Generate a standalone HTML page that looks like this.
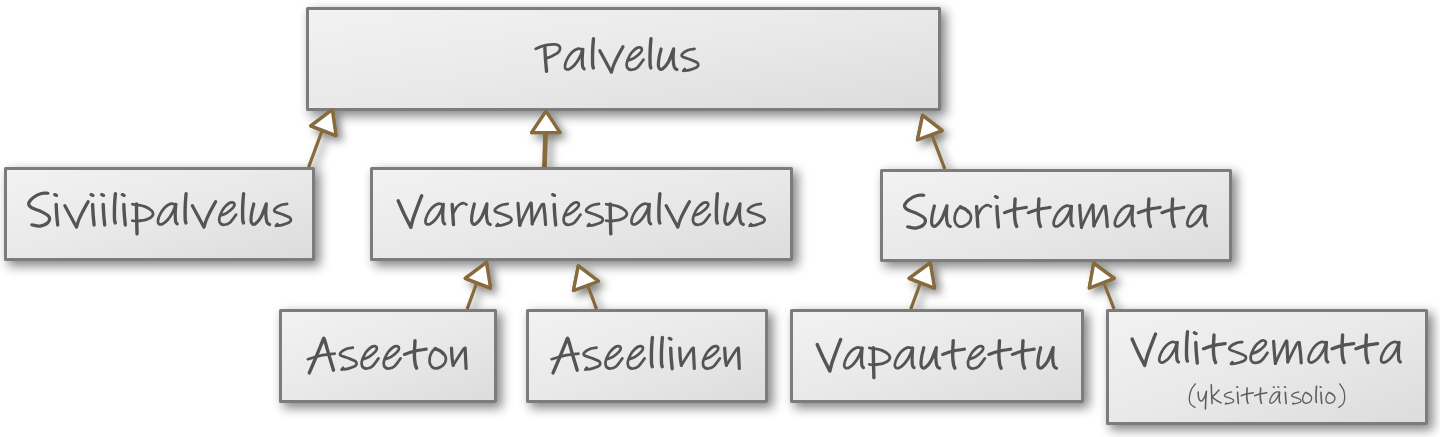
<!DOCTYPE html>
<html><head><meta charset="utf-8"><title>Palvelus</title>
<style>
html,body{margin:0;padding:0;background:#fff;}
body{width:1440px;height:437px;position:relative;overflow:hidden;font-family:"Liberation Sans",sans-serif;}
.b{position:absolute;box-sizing:border-box;border:3px solid #7c7c7c;border-radius:1.5px;
 background:linear-gradient(to bottom right,#f2f2f2 0%,#e9e9e9 50%,#dcdcdc 100%);
 box-shadow:4.5px 4.5px 11px rgba(0,0,0,.48);
 display:flex;flex-direction:column;align-items:center;justify-content:center;
 color:transparent;font-size:44px;line-height:1;}
.b small{font-size:22px;}
svg{position:absolute;left:0;top:0;}
</style></head><body>
<svg width="1440" height="437" viewBox="0 0 1440 437">
<defs><filter id="sh" filterUnits="userSpaceOnUse" x="0" y="0" width="1440" height="437"><feDropShadow dx="4.5" dy="4.5" stdDeviation="4.5" flood-color="#000" flood-opacity=".5"/></filter></defs>
<g filter="url(#sh)" stroke="#876b3c" stroke-width="3.3" fill="#fff" stroke-linejoin="round" stroke-linecap="butt">
<path d="M321.8 131.5L308.7 167" stroke-width="3.3"/>
<path d="M545.6 132.3L544.5 167" stroke-width="4.8"/>
<path d="M932.2 135.6L944.8 169" stroke-width="3.3"/>
<path d="M476.3 284L467.2 309" stroke-width="3.3"/>
<path d="M588.2 286.5L596.5 309" stroke-width="3.3"/>
<path d="M920.1 284L910.8 309" stroke-width="3.3"/>
<path d="M1104.3 284L1114.1 309" stroke-width="3.3"/>
<path d="M332.3 109.8L310.8 125.9L336.0 135.6Z"/>
<path d="M546.0 111.3L531.6 132.6L560.0 132.6Z"/>
<path d="M922.6 115.4L942.2 130.6L917.5 139.8Z"/>
<path d="M486.5 262.5L465.3 278.4L490.5 288.1Z"/>
<path d="M578.3 265.9L598.5 281.3L573.5 290.5Z"/>
<path d="M930.3 262.9L909.1 278.4L934.5 288.1Z"/>
<path d="M1093.7 263.4L1114.2 278.4L1089.3 288.0Z"/>
</g>
</svg>
<div class="b" style="left:306px;top:7px;width:635px;height:104px">Palvelus</div>
<div class="b" style="left:4px;top:167px;width:311px;height:94px">Siviilipalvelus</div>
<div class="b" style="left:370px;top:167px;width:423px;height:94px">Varusmiespalvelus</div>
<div class="b" style="left:880px;top:169px;width:352px;height:93px">Suorittamatta</div>
<div class="b" style="left:279px;top:309px;width:218px;height:94px">Aseeton</div>
<div class="b" style="left:526px;top:309px;width:242px;height:94px">Aseellinen</div>
<div class="b" style="left:790px;top:309px;width:294px;height:94px">Vapautettu</div>
<div class="b" style="left:1106px;top:309px;width:322px;height:116px">Valitsematta<small>(yksittäisolio)</small></div>
<svg width="1440" height="437" viewBox="0 0 1440 437" style="z-index:5"><g stroke="#876b3c" stroke-width="3.3" fill="#fff" stroke-linejoin="round">
<path d="M332.3 109.8L310.8 125.9L336.0 135.6Z"/>
<path d="M546.0 111.3L531.6 132.6L560.0 132.6Z"/>
<path d="M922.6 115.4L942.2 130.6L917.5 139.8Z"/>
<path d="M486.5 262.5L465.3 278.4L490.5 288.1Z"/>
<path d="M578.3 265.9L598.5 281.3L573.5 290.5Z"/>
<path d="M930.3 262.9L909.1 278.4L934.5 288.1Z"/>
<path d="M1093.7 263.4L1114.2 278.4L1089.3 288.0Z"/>
</g></svg>
<svg width="1440" height="437" viewBox="0 0 1440 437" style="z-index:6" fill="none" stroke-linecap="round" stroke-linejoin="round">
<g aria-label="Palvelus" stroke="#545454"><path stroke-width="2.75" d="M535.75 48.85C536.58 48.48 538.83 47.30 540.75 46.65C542.67 46.00 544.92 45.32 547.25 44.95C549.58 44.58 552.78 44.30 554.75 44.45C556.72 44.60 558.17 45.10 559.05 45.85C559.93 46.60 560.25 47.82 560.05 48.95C559.85 50.08 559.07 51.53 557.85 52.65C556.63 53.77 554.72 54.68 552.75 55.65C550.78 56.62 547.17 57.98 546.05 58.45M582.45 49.65C581.62 49.52 579.27 48.33 577.45 48.85C575.63 49.37 573.32 50.93 571.55 52.75C569.78 54.57 567.95 57.53 566.85 59.75C565.75 61.97 565.08 64.50 564.95 66.05C564.82 67.60 565.28 68.57 566.05 69.05C566.82 69.53 568.10 69.67 569.55 68.95C571.00 68.23 573.10 66.62 574.75 64.75C576.40 62.88 578.10 60.33 579.45 57.75C580.80 55.17 582.28 50.67 582.85 49.25M627.50 60.85C628.65 60.35 632.23 59.22 634.40 57.85C636.57 56.48 639.25 54.08 640.50 52.65C641.75 51.22 642.00 50.13 641.90 49.25C641.80 48.37 640.82 47.52 639.90 47.35C638.98 47.18 637.87 47.27 636.40 48.25C634.93 49.23 632.55 51.32 631.10 53.25C629.65 55.18 628.45 57.92 627.70 59.85C626.95 61.78 626.53 63.38 626.60 64.85C626.67 66.32 627.18 67.83 628.10 68.65C629.02 69.47 630.53 69.95 632.10 69.75C633.67 69.55 635.60 69.13 637.50 67.45C639.40 65.77 642.50 60.95 643.50 59.65M694.50 48.95C693.48 49.12 690.40 49.17 688.40 49.95C686.40 50.73 683.52 52.53 682.50 53.65C681.48 54.77 681.15 55.72 682.30 56.65C683.45 57.58 686.87 58.22 689.40 59.25C691.93 60.28 696.22 61.55 697.50 62.85C698.78 64.15 698.37 65.88 697.10 67.05C695.83 68.22 692.20 69.23 689.90 69.85C687.60 70.47 684.40 70.60 683.30 70.75M683.30 70.75L684.70 69.05"/><path stroke-width="3.20" d="M582.85 49.25C582.75 50.92 582.28 56.33 582.25 59.25C582.22 62.17 582.33 65.15 582.65 66.75C582.97 68.35 583.90 68.50 584.15 68.85M599.80 50.65C600.75 52.42 603.57 57.67 605.50 61.25C607.43 64.83 610.42 70.33 611.40 72.15M611.40 72.15C611.77 71.00 612.67 67.65 613.60 65.25C614.53 62.85 615.43 60.85 617.00 57.75C618.57 54.65 622.00 48.50 623.00 46.65M661.15 48.95C660.82 50.33 659.62 54.53 659.15 57.25C658.68 59.97 658.28 63.32 658.35 65.25C658.42 67.18 658.82 68.28 659.55 68.85C660.28 69.42 661.30 69.75 662.75 68.65C664.20 67.55 666.43 65.55 668.25 62.25C670.07 58.95 672.75 51.08 673.65 48.85M673.65 48.85C673.57 50.58 673.03 56.18 673.15 59.25C673.27 62.32 673.72 65.55 674.35 67.25C674.98 68.95 676.52 69.08 676.95 69.45"/><path stroke-width="3.39" d="M544.85 46.45C544.93 48.25 545.07 53.12 545.35 57.25C545.63 61.38 546.35 68.92 546.55 71.25M593.50 38.65C593.38 40.08 592.97 44.15 592.80 47.25C592.63 50.35 592.52 54.25 592.50 57.25C592.48 60.25 592.55 63.47 592.70 65.25C592.85 67.03 593.28 67.50 593.40 67.95M651.00 38.65C650.88 40.08 650.47 44.15 650.30 47.25C650.13 50.35 650.02 54.25 650.00 57.25C649.98 60.25 650.05 63.47 650.20 65.25C650.35 67.03 650.78 67.50 650.90 67.95"/></g>
<g aria-label="Siviilipalvelus" stroke="#545454"><path stroke-width="2.75" d="M132.45 204.25C133.12 204.32 134.35 204.25 136.45 204.65C138.55 205.05 142.48 205.62 145.05 206.65C147.62 207.68 150.62 209.32 151.85 210.85C153.08 212.38 153.38 214.38 152.45 215.85C151.52 217.32 148.88 218.78 146.25 219.65C143.62 220.52 138.95 220.88 136.65 221.05C134.35 221.22 133.15 220.72 132.45 220.65M175.45 204.65C174.62 204.52 172.27 203.33 170.45 203.85C168.63 204.37 166.32 205.93 164.55 207.75C162.78 209.57 160.95 212.53 159.85 214.75C158.75 216.97 158.08 219.50 157.95 221.05C157.82 222.60 158.28 223.57 159.05 224.05C159.82 224.53 161.10 224.67 162.55 223.95C164.00 223.23 166.10 221.62 167.75 219.75C169.40 217.88 171.10 215.33 172.45 212.75C173.80 210.17 175.28 205.67 175.85 204.25M220.10 215.85C221.25 215.35 224.83 214.22 227.00 212.85C229.17 211.48 231.85 209.08 233.10 207.65C234.35 206.22 234.60 205.13 234.50 204.25C234.40 203.37 233.42 202.52 232.50 202.35C231.58 202.18 230.47 202.27 229.00 203.25C227.53 204.23 225.15 206.32 223.70 208.25C222.25 210.18 221.05 212.92 220.30 214.85C219.55 216.78 219.13 218.38 219.20 219.85C219.27 221.32 219.78 222.83 220.70 223.65C221.62 224.47 223.13 224.95 224.70 224.75C226.27 224.55 228.20 224.13 230.10 222.45C232.00 220.77 235.10 215.95 236.10 214.65M287.10 203.95C286.08 204.12 283.00 204.17 281.00 204.95C279.00 205.73 276.12 207.53 275.10 208.65C274.08 209.77 273.75 210.72 274.90 211.65C276.05 212.58 279.47 213.22 282.00 214.25C284.53 215.28 288.82 216.55 290.10 217.85C291.38 219.15 290.97 220.88 289.70 222.05C288.43 223.22 284.80 224.23 282.50 224.85C280.20 225.47 277.00 225.60 275.90 225.75M275.90 225.75L277.30 224.05"/><path stroke-width="3.20" d="M47.90 193.25C46.82 193.28 43.87 192.72 41.40 193.45C38.93 194.18 35.22 196.02 33.10 197.65C30.98 199.28 28.97 201.58 28.70 203.25C28.43 204.92 29.40 206.25 31.50 207.65C33.60 209.05 38.40 210.15 41.30 211.65C44.20 213.15 47.80 214.82 48.90 216.65C50.00 218.48 49.37 221.08 47.90 222.65C46.43 224.22 42.77 225.70 40.10 226.05C37.43 226.40 33.27 224.97 31.90 224.75M54.70 194.55L56.50 195.45M64.90 205.65C65.85 207.42 68.67 212.67 70.60 216.25C72.53 219.83 75.52 225.33 76.50 227.15M76.50 227.15C76.87 226.00 77.77 222.65 78.70 220.25C79.63 217.85 80.53 215.85 82.10 212.75C83.67 209.65 87.10 203.50 88.10 201.65M91.10 194.55L92.90 195.45M101.70 194.55L103.50 195.45M122.30 194.55L124.10 195.45M175.85 204.25C175.75 205.92 175.28 211.33 175.25 214.25C175.22 217.17 175.33 220.15 175.65 221.75C175.97 223.35 176.90 223.50 177.15 223.85M192.40 205.65C193.35 207.42 196.17 212.67 198.10 216.25C200.03 219.83 203.02 225.33 204.00 227.15M204.00 227.15C204.37 226.00 205.27 222.65 206.20 220.25C207.13 217.85 208.03 215.85 209.60 212.75C211.17 209.65 214.60 203.50 215.60 201.65M253.80 203.95C253.47 205.33 252.27 209.53 251.80 212.25C251.33 214.97 250.93 218.32 251.00 220.25C251.07 222.18 251.47 223.28 252.20 223.85C252.93 224.42 253.95 224.75 255.40 223.65C256.85 222.55 259.08 220.55 260.90 217.25C262.72 213.95 265.40 206.08 266.30 203.85M266.30 203.85C266.22 205.58 265.68 211.18 265.80 214.25C265.92 217.32 266.37 220.55 267.00 222.25C267.63 223.95 269.17 224.08 269.60 224.45"/><path stroke-width="3.39" d="M56.20 204.35C56.28 206.00 56.45 210.82 56.70 214.25C56.95 217.68 57.53 223.17 57.70 224.95M92.60 204.35C92.68 206.00 92.85 210.82 93.10 214.25C93.35 217.68 93.93 223.17 94.10 224.95M103.20 204.35C103.28 206.00 103.45 210.82 103.70 214.25C103.95 217.68 104.53 223.17 104.70 224.95M115.40 193.65C115.28 195.08 114.87 199.15 114.70 202.25C114.53 205.35 114.42 209.25 114.40 212.25C114.38 215.25 114.45 218.47 114.60 220.25C114.75 222.03 115.18 222.50 115.30 222.95M123.80 204.35C123.88 206.00 124.05 210.82 124.30 214.25C124.55 217.68 125.13 223.17 125.30 224.95M136.45 203.85C136.48 206.25 136.55 213.25 136.65 218.25C136.75 223.25 136.98 231.25 137.05 233.85M186.10 193.65C185.98 195.08 185.57 199.15 185.40 202.25C185.23 205.35 185.12 209.25 185.10 212.25C185.08 215.25 185.15 218.47 185.30 220.25C185.45 222.03 185.88 222.50 186.00 222.95M243.60 193.65C243.48 195.08 243.07 199.15 242.90 202.25C242.73 205.35 242.62 209.25 242.60 212.25C242.58 215.25 242.65 218.47 242.80 220.25C242.95 222.03 243.38 222.50 243.50 222.95"/></g>
<g aria-label="Varusmiespalvelus" stroke="#545454"><path stroke-width="2.75" d="M442.95 204.65C442.12 204.52 439.77 203.33 437.95 203.85C436.13 204.37 433.82 205.93 432.05 207.75C430.28 209.57 428.45 212.53 427.35 214.75C426.25 216.97 425.58 219.50 425.45 221.05C425.32 222.60 425.78 223.57 426.55 224.05C427.32 224.53 428.60 224.67 430.05 223.95C431.50 223.23 433.60 221.62 435.25 219.75C436.90 217.88 438.60 215.33 439.95 212.75C441.30 210.17 442.78 205.67 443.35 204.25M453.20 213.45C453.77 212.42 455.37 208.85 456.60 207.25C457.83 205.65 459.37 204.52 460.60 203.85C461.83 203.18 463.03 203.13 464.00 203.25C464.97 203.37 466.00 204.33 466.40 204.55M507.70 203.95C506.68 204.12 503.60 204.17 501.60 204.95C499.60 205.73 496.72 207.53 495.70 208.65C494.68 209.77 494.35 210.72 495.50 211.65C496.65 212.58 500.07 213.22 502.60 214.25C505.13 215.28 509.42 216.55 510.70 217.85C511.98 219.15 511.57 220.88 510.30 222.05C509.03 223.22 505.40 224.23 503.10 224.85C500.80 225.47 497.60 225.60 496.50 225.75M496.50 225.75L497.90 224.05M519.80 225.35C520.40 224.00 521.70 220.87 523.40 217.25C525.10 213.63 528.70 205.98 530.00 203.65C531.30 201.32 531.00 203.32 531.20 203.25M532.20 223.85C532.73 222.75 533.87 220.35 535.40 217.25C536.93 214.15 540.03 207.38 541.40 205.25C542.77 203.12 543.23 204.58 543.60 204.45M564.50 215.85C565.65 215.35 569.23 214.22 571.40 212.85C573.57 211.48 576.25 209.08 577.50 207.65C578.75 206.22 579.00 205.13 578.90 204.25C578.80 203.37 577.82 202.52 576.90 202.35C575.98 202.18 574.87 202.27 573.40 203.25C571.93 204.23 569.55 206.32 568.10 208.25C566.65 210.18 565.45 212.92 564.70 214.85C563.95 216.78 563.53 218.38 563.60 219.85C563.67 221.32 564.18 222.83 565.10 223.65C566.02 224.47 567.53 224.95 569.10 224.75C570.67 224.55 572.60 224.13 574.50 222.45C576.40 220.77 579.50 215.95 580.50 214.65M599.00 203.95C597.98 204.12 594.90 204.17 592.90 204.95C590.90 205.73 588.02 207.53 587.00 208.65C585.98 209.77 585.65 210.72 586.80 211.65C587.95 212.58 591.37 213.22 593.90 214.25C596.43 215.28 600.72 216.55 602.00 217.85C603.28 219.15 602.87 220.88 601.60 222.05C600.33 223.22 596.70 224.23 594.40 224.85C592.10 225.47 588.90 225.60 587.80 225.75M587.80 225.75L589.20 224.05M606.20 204.25C606.87 204.32 608.10 204.25 610.20 204.65C612.30 205.05 616.23 205.62 618.80 206.65C621.37 207.68 624.37 209.32 625.60 210.85C626.83 212.38 627.13 214.38 626.20 215.85C625.27 217.32 622.63 218.78 620.00 219.65C617.37 220.52 612.70 220.88 610.40 221.05C608.10 221.22 606.90 220.72 606.20 220.65M648.95 204.65C648.12 204.52 645.77 203.33 643.95 203.85C642.13 204.37 639.82 205.93 638.05 207.75C636.28 209.57 634.45 212.53 633.35 214.75C632.25 216.97 631.58 219.50 631.45 221.05C631.32 222.60 631.78 223.57 632.55 224.05C633.32 224.53 634.60 224.67 636.05 223.95C637.50 223.23 639.60 221.62 641.25 219.75C642.90 217.88 644.60 215.33 645.95 212.75C647.30 210.17 648.78 205.67 649.35 204.25M693.85 215.85C695.00 215.35 698.58 214.22 700.75 212.85C702.92 211.48 705.60 209.08 706.85 207.65C708.10 206.22 708.35 205.13 708.25 204.25C708.15 203.37 707.17 202.52 706.25 202.35C705.33 202.18 704.22 202.27 702.75 203.25C701.28 204.23 698.90 206.32 697.45 208.25C696.00 210.18 694.80 212.92 694.05 214.85C693.30 216.78 692.88 218.38 692.95 219.85C693.02 221.32 693.53 222.83 694.45 223.65C695.37 224.47 696.88 224.95 698.45 224.75C700.02 224.55 701.95 224.13 703.85 222.45C705.75 220.77 708.85 215.95 709.85 214.65M760.85 203.95C759.83 204.12 756.75 204.17 754.75 204.95C752.75 205.73 749.87 207.53 748.85 208.65C747.83 209.77 747.50 210.72 748.65 211.65C749.80 212.58 753.22 213.22 755.75 214.25C758.28 215.28 762.57 216.55 763.85 217.85C765.13 219.15 764.72 220.88 763.45 222.05C762.18 223.22 758.55 224.23 756.25 224.85C753.95 225.47 750.75 225.60 749.65 225.75M749.65 225.75L751.05 224.05"/><path stroke-width="3.20" d="M443.35 204.25C443.25 205.92 442.78 211.33 442.75 214.25C442.72 217.17 442.83 220.15 443.15 221.75C443.47 223.35 444.40 223.50 444.65 223.85M474.40 203.95C474.07 205.33 472.87 209.53 472.40 212.25C471.93 214.97 471.53 218.32 471.60 220.25C471.67 222.18 472.07 223.28 472.80 223.85C473.53 224.42 474.55 224.75 476.00 223.65C477.45 222.55 479.68 220.55 481.50 217.25C483.32 213.95 486.00 206.08 486.90 203.85M486.90 203.85C486.82 205.58 486.28 211.18 486.40 214.25C486.52 217.32 486.97 220.55 487.60 222.25C488.23 223.95 489.77 224.08 490.20 224.45M518.00 203.25C518.13 205.08 518.50 210.57 518.80 214.25C519.10 217.93 519.63 223.50 519.80 225.35M531.20 203.25C531.30 205.08 531.63 210.82 531.80 214.25C531.97 217.68 532.13 222.25 532.20 223.85M543.60 204.45C543.80 206.08 544.47 210.88 544.80 214.25C545.13 217.62 545.47 222.92 545.60 224.65M552.70 194.55L554.50 195.45M649.35 204.25C649.25 205.92 648.78 211.33 648.75 214.25C648.72 217.17 648.83 220.15 649.15 221.75C649.47 223.35 650.40 223.50 650.65 223.85M666.20 205.65C667.15 207.42 669.97 212.67 671.90 216.25C673.83 219.83 676.82 225.33 677.80 227.15M677.80 227.15C678.17 226.00 679.07 222.65 680.00 220.25C680.93 217.85 681.83 215.85 683.40 212.75C684.97 209.65 688.40 203.50 689.40 201.65M727.50 203.95C727.17 205.33 725.97 209.53 725.50 212.25C725.03 214.97 724.63 218.32 724.70 220.25C724.77 222.18 725.17 223.28 725.90 223.85C726.63 224.42 727.65 224.75 729.10 223.65C730.55 222.55 732.78 220.55 734.60 217.25C736.42 213.95 739.10 206.08 740.00 203.85M740.00 203.85C739.92 205.58 739.38 211.18 739.50 214.25C739.62 217.32 740.07 220.55 740.70 222.25C741.33 223.95 742.87 224.08 743.30 224.45"/><path stroke-width="3.39" d="M398.25 200.85C399.25 203.08 402.15 209.85 404.25 214.25C406.35 218.65 409.75 225.08 410.85 227.25M410.85 227.25C411.25 225.75 412.18 221.58 413.25 218.25C414.32 214.92 415.85 210.98 417.25 207.25C418.65 203.52 420.92 197.75 421.65 195.85M452.20 204.45C452.30 206.08 452.58 210.88 452.80 214.25C453.02 217.62 453.38 222.92 453.50 224.65M554.20 204.35C554.28 206.00 554.45 210.82 554.70 214.25C554.95 217.68 555.53 223.17 555.70 224.95M610.20 203.85C610.23 206.25 610.30 213.25 610.40 218.25C610.50 223.25 610.73 231.25 610.80 233.85M659.90 193.65C659.78 195.08 659.37 199.15 659.20 202.25C659.03 205.35 658.92 209.25 658.90 212.25C658.88 215.25 658.95 218.47 659.10 220.25C659.25 222.03 659.68 222.50 659.80 222.95M717.40 193.65C717.28 195.08 716.87 199.15 716.70 202.25C716.53 205.35 716.42 209.25 716.40 212.25C716.38 215.25 716.45 218.47 716.60 220.25C716.75 222.03 717.18 222.50 717.30 222.95"/></g>
<g aria-label="Suorittamatta" stroke="#545454"><path stroke-width="2.75" d="M959.90 206.65C960.82 207.03 963.77 207.90 965.40 208.95C967.03 210.00 968.77 211.53 969.70 212.95C970.63 214.37 971.08 215.87 971.00 217.45C970.92 219.03 970.30 221.05 969.20 222.45C968.10 223.85 966.10 225.20 964.40 225.85C962.70 226.50 960.52 226.90 959.00 226.35C957.48 225.80 956.00 224.20 955.30 222.55C954.60 220.90 954.52 218.50 954.80 216.45C955.08 214.40 956.02 211.93 957.00 210.25C957.98 208.57 960.08 207.00 960.70 206.35M960.90 207.65C961.65 207.98 964.07 208.78 965.40 209.65C966.73 210.52 968.32 212.32 968.90 212.85M977.60 215.45C978.17 214.42 979.77 210.85 981.00 209.25C982.23 207.65 983.77 206.52 985.00 205.85C986.23 205.18 987.43 205.13 988.40 205.25C989.37 205.37 990.40 206.33 990.80 206.55M1071.10 206.65C1070.27 206.52 1067.92 205.33 1066.10 205.85C1064.28 206.37 1061.97 207.93 1060.20 209.75C1058.43 211.57 1056.60 214.53 1055.50 216.75C1054.40 218.97 1053.73 221.50 1053.60 223.05C1053.47 224.60 1053.93 225.57 1054.70 226.05C1055.47 226.53 1056.75 226.67 1058.20 225.95C1059.65 225.23 1061.75 223.62 1063.40 221.75C1065.05 219.88 1066.75 217.33 1068.10 214.75C1069.45 212.17 1070.93 207.67 1071.50 206.25M1081.50 227.35C1082.10 226.00 1083.40 222.87 1085.10 219.25C1086.80 215.63 1090.40 207.98 1091.70 205.65C1093.00 203.32 1092.70 205.32 1092.90 205.25M1093.90 225.85C1094.43 224.75 1095.57 222.35 1097.10 219.25C1098.63 216.15 1101.73 209.38 1103.10 207.25C1104.47 205.12 1104.93 206.58 1105.30 206.45M1132.30 206.65C1131.47 206.52 1129.12 205.33 1127.30 205.85C1125.48 206.37 1123.17 207.93 1121.40 209.75C1119.63 211.57 1117.80 214.53 1116.70 216.75C1115.60 218.97 1114.93 221.50 1114.80 223.05C1114.67 224.60 1115.13 225.57 1115.90 226.05C1116.67 226.53 1117.95 226.67 1119.40 225.95C1120.85 225.23 1122.95 223.62 1124.60 221.75C1126.25 219.88 1127.95 217.33 1129.30 214.75C1130.65 212.17 1132.13 207.67 1132.70 206.25M1204.80 206.65C1203.97 206.52 1201.62 205.33 1199.80 205.85C1197.98 206.37 1195.67 207.93 1193.90 209.75C1192.13 211.57 1190.30 214.53 1189.20 216.75C1188.10 218.97 1187.43 221.50 1187.30 223.05C1187.17 224.60 1187.63 225.57 1188.40 226.05C1189.17 226.53 1190.45 226.67 1191.90 225.95C1193.35 225.23 1195.45 223.62 1197.10 221.75C1198.75 219.88 1200.45 217.33 1201.80 214.75C1203.15 212.17 1204.63 207.67 1205.20 206.25"/><path stroke-width="3.20" d="M923.75 195.25C922.67 195.28 919.72 194.72 917.25 195.45C914.78 196.18 911.07 198.02 908.95 199.65C906.83 201.28 904.82 203.58 904.55 205.25C904.28 206.92 905.25 208.25 907.35 209.65C909.45 211.05 914.25 212.15 917.15 213.65C920.05 215.15 923.65 216.82 924.75 218.65C925.85 220.48 925.22 223.08 923.75 224.65C922.28 226.22 918.62 227.70 915.95 228.05C913.28 228.40 909.12 226.97 907.75 226.75M934.40 205.95C934.07 207.33 932.87 211.53 932.40 214.25C931.93 216.97 931.53 220.32 931.60 222.25C931.67 224.18 932.07 225.28 932.80 225.85C933.53 226.42 934.55 226.75 936.00 225.65C937.45 224.55 939.68 222.55 941.50 219.25C943.32 215.95 946.00 208.08 946.90 205.85M946.90 205.85C946.82 207.58 946.28 213.18 946.40 216.25C946.52 219.32 946.97 222.55 947.60 224.25C948.23 225.95 949.77 226.08 950.20 226.45M995.45 196.55L997.25 197.45M1004.50 212.65C1006.27 212.08 1011.47 210.12 1015.10 209.25C1018.73 208.38 1024.43 207.75 1026.30 207.45M1028.30 212.65C1030.07 212.08 1035.27 210.12 1038.90 209.25C1042.53 208.38 1048.23 207.75 1050.10 207.45M1071.50 206.25C1071.40 207.92 1070.93 213.33 1070.90 216.25C1070.87 219.17 1070.98 222.15 1071.30 223.75C1071.62 225.35 1072.55 225.50 1072.80 225.85M1079.70 205.25C1079.83 207.08 1080.20 212.57 1080.50 216.25C1080.80 219.93 1081.33 225.50 1081.50 227.35M1092.90 205.25C1093.00 207.08 1093.33 212.82 1093.50 216.25C1093.67 219.68 1093.83 224.25 1093.90 225.85M1105.30 206.45C1105.50 208.08 1106.17 212.88 1106.50 216.25C1106.83 219.62 1107.17 224.92 1107.30 226.65M1132.70 206.25C1132.60 207.92 1132.13 213.33 1132.10 216.25C1132.07 219.17 1132.18 222.15 1132.50 223.75C1132.82 225.35 1133.75 225.50 1134.00 225.85M1138.30 212.65C1140.07 212.08 1145.27 210.12 1148.90 209.25C1152.53 208.38 1158.23 207.75 1160.10 207.45M1162.00 212.65C1163.77 212.08 1168.97 210.12 1172.60 209.25C1176.23 208.38 1181.93 207.75 1183.80 207.45M1205.20 206.25C1205.10 207.92 1204.63 213.33 1204.60 216.25C1204.57 219.17 1204.68 222.15 1205.00 223.75C1205.32 225.35 1206.25 225.50 1206.50 225.85"/><path stroke-width="3.39" d="M976.60 206.45C976.70 208.08 976.98 212.88 977.20 216.25C977.42 219.62 977.78 224.92 977.90 226.65M996.95 206.35C997.03 208.00 997.20 212.82 997.45 216.25C997.70 219.68 998.28 225.17 998.45 226.95M1015.10 198.85C1015.00 201.25 1014.47 209.35 1014.50 213.25C1014.53 217.15 1014.93 220.05 1015.30 222.25C1015.67 224.45 1016.47 225.75 1016.70 226.45M1038.90 198.85C1038.80 201.25 1038.27 209.35 1038.30 213.25C1038.33 217.15 1038.73 220.05 1039.10 222.25C1039.47 224.45 1040.27 225.75 1040.50 226.45M1148.90 198.85C1148.80 201.25 1148.27 209.35 1148.30 213.25C1148.33 217.15 1148.73 220.05 1149.10 222.25C1149.47 224.45 1150.27 225.75 1150.50 226.45M1172.60 198.85C1172.50 201.25 1171.97 209.35 1172.00 213.25C1172.03 217.15 1172.43 220.05 1172.80 222.25C1173.17 224.45 1173.97 225.75 1174.20 226.45"/></g>
<g aria-label="Aseeton" stroke="#545454"><path stroke-width="2.75" d="M307.90 359.20C310.00 358.60 316.03 356.53 320.50 355.60C324.97 354.67 332.33 353.93 334.70 353.60M352.85 347.70C351.83 347.87 348.75 347.92 346.75 348.70C344.75 349.48 341.87 351.28 340.85 352.40C339.83 353.52 339.50 354.47 340.65 355.40C341.80 356.33 345.22 356.97 347.75 358.00C350.28 359.03 354.57 360.30 355.85 361.60C357.13 362.90 356.72 364.63 355.45 365.80C354.18 366.97 350.55 367.98 348.25 368.60C345.95 369.22 342.75 369.35 341.65 369.50M341.65 369.50L343.05 367.80M362.50 359.60C363.65 359.10 367.23 357.97 369.40 356.60C371.57 355.23 374.25 352.83 375.50 351.40C376.75 349.97 377.00 348.88 376.90 348.00C376.80 347.12 375.82 346.27 374.90 346.10C373.98 345.93 372.87 346.02 371.40 347.00C369.93 347.98 367.55 350.07 366.10 352.00C364.65 353.93 363.45 356.67 362.70 358.60C361.95 360.53 361.53 362.13 361.60 363.60C361.67 365.07 362.18 366.58 363.10 367.40C364.02 368.22 365.53 368.70 367.10 368.50C368.67 368.30 370.60 367.88 372.50 366.20C374.40 364.52 377.50 359.70 378.50 358.40M384.60 359.60C385.75 359.10 389.33 357.97 391.50 356.60C393.67 355.23 396.35 352.83 397.60 351.40C398.85 349.97 399.10 348.88 399.00 348.00C398.90 347.12 397.92 346.27 397.00 346.10C396.08 345.93 394.97 346.02 393.50 347.00C392.03 347.98 389.65 350.07 388.20 352.00C386.75 353.93 385.55 356.67 384.80 358.60C384.05 360.53 383.63 362.13 383.70 363.60C383.77 365.07 384.28 366.58 385.20 367.40C386.12 368.22 387.63 368.70 389.20 368.50C390.77 368.30 392.70 367.88 394.60 366.20C396.50 364.52 399.60 359.70 400.60 358.40M434.80 348.40C435.72 348.78 438.67 349.65 440.30 350.70C441.93 351.75 443.67 353.28 444.60 354.70C445.53 356.12 445.98 357.62 445.90 359.20C445.82 360.78 445.20 362.80 444.10 364.20C443.00 365.60 441.00 366.95 439.30 367.60C437.60 368.25 435.42 368.65 433.90 368.10C432.38 367.55 430.90 365.95 430.20 364.30C429.50 362.65 429.42 360.25 429.70 358.20C429.98 356.15 430.92 353.68 431.90 352.00C432.88 350.32 434.98 348.75 435.60 348.10M435.80 349.40C436.55 349.73 438.97 350.53 440.30 351.40C441.63 352.27 443.22 354.07 443.80 354.60M453.20 365.40C453.90 364.25 455.72 361.17 457.40 358.50C459.08 355.83 462.02 351.12 463.30 349.40C464.58 347.68 464.80 348.40 465.10 348.20"/><path stroke-width="3.20" d="M404.40 354.40C406.17 353.83 411.37 351.87 415.00 351.00C418.63 350.13 424.33 349.50 426.20 349.20M451.50 348.20C451.60 349.83 451.82 355.13 452.10 358.00C452.38 360.87 453.02 364.17 453.20 365.40M465.10 348.20C465.18 349.83 465.43 354.62 465.60 358.00C465.77 361.38 466.02 366.75 466.10 368.50"/><path stroke-width="3.39" d="M323.20 339.40C322.08 342.17 318.82 350.42 316.50 356.00C314.18 361.58 310.50 370.08 309.30 372.90M323.20 339.40C323.40 339.40 323.45 336.80 324.40 339.40C325.35 342.00 327.38 349.87 328.90 355.00C330.42 360.13 332.73 367.67 333.50 370.20M415.00 340.60C414.90 343.00 414.37 351.10 414.40 355.00C414.43 358.90 414.83 361.80 415.20 364.00C415.57 366.20 416.37 367.50 416.60 368.20"/></g>
<g aria-label="Aseellinen" stroke="#545454"><path stroke-width="2.75" d="M551.65 359.20C553.75 358.60 559.78 356.53 564.25 355.60C568.72 354.67 576.08 353.93 578.45 353.60M596.50 347.70C595.48 347.87 592.40 347.92 590.40 348.70C588.40 349.48 585.52 351.28 584.50 352.40C583.48 353.52 583.15 354.47 584.30 355.40C585.45 356.33 588.87 356.97 591.40 358.00C593.93 359.03 598.22 360.30 599.50 361.60C600.78 362.90 600.37 364.63 599.10 365.80C597.83 366.97 594.20 367.98 591.90 368.60C589.60 369.22 586.40 369.35 585.30 369.50M585.30 369.50L586.70 367.80M606.35 359.60C607.50 359.10 611.08 357.97 613.25 356.60C615.42 355.23 618.10 352.83 619.35 351.40C620.60 349.97 620.85 348.88 620.75 348.00C620.65 347.12 619.67 346.27 618.75 346.10C617.83 345.93 616.72 346.02 615.25 347.00C613.78 347.98 611.40 350.07 609.95 352.00C608.50 353.93 607.30 356.67 606.55 358.60C605.80 360.53 605.38 362.13 605.45 363.60C605.52 365.07 606.03 366.58 606.95 367.40C607.87 368.22 609.38 368.70 610.95 368.50C612.52 368.30 614.45 367.88 616.35 366.20C618.25 364.52 621.35 359.70 622.35 358.40M628.60 359.60C629.75 359.10 633.33 357.97 635.50 356.60C637.67 355.23 640.35 352.83 641.60 351.40C642.85 349.97 643.10 348.88 643.00 348.00C642.90 347.12 641.92 346.27 641.00 346.10C640.08 345.93 638.97 346.02 637.50 347.00C636.03 347.98 633.65 350.07 632.20 352.00C630.75 353.93 629.55 356.67 628.80 358.60C628.05 360.53 627.63 362.13 627.70 363.60C627.77 365.07 628.28 366.58 629.20 367.40C630.12 368.22 631.63 368.70 633.20 368.50C634.77 368.30 636.70 367.88 638.60 366.20C640.50 364.52 643.60 359.70 644.60 358.40M681.40 365.40C682.10 364.25 683.92 361.17 685.60 358.50C687.28 355.83 690.22 351.12 691.50 349.40C692.78 347.68 693.00 348.40 693.30 348.20M703.85 359.60C705.00 359.10 708.58 357.97 710.75 356.60C712.92 355.23 715.60 352.83 716.85 351.40C718.10 349.97 718.35 348.88 718.25 348.00C718.15 347.12 717.17 346.27 716.25 346.10C715.33 345.93 714.22 346.02 712.75 347.00C711.28 347.98 708.90 350.07 707.45 352.00C706.00 353.93 704.80 356.67 704.05 358.60C703.30 360.53 702.88 362.13 702.95 363.60C703.02 365.07 703.53 366.58 704.45 367.40C705.37 368.22 706.88 368.70 708.45 368.50C710.02 368.30 711.95 367.88 713.85 366.20C715.75 364.52 718.85 359.70 719.85 358.40M726.40 365.40C727.10 364.25 728.92 361.17 730.60 358.50C732.28 355.83 735.22 351.12 736.50 349.40C737.78 347.68 738.00 348.40 738.30 348.20"/><path stroke-width="3.20" d="M669.20 338.30L671.00 339.20M679.70 348.20C679.80 349.83 680.02 355.13 680.30 358.00C680.58 360.87 681.22 364.17 681.40 365.40M693.30 348.20C693.38 349.83 693.63 354.62 693.80 358.00C693.97 361.38 694.22 366.75 694.30 368.50M724.70 348.20C724.80 349.83 725.02 355.13 725.30 358.00C725.58 360.87 726.22 364.17 726.40 365.40M738.30 348.20C738.38 349.83 738.63 354.62 738.80 358.00C738.97 361.38 739.22 366.75 739.30 368.50"/><path stroke-width="3.39" d="M566.95 339.40C565.83 342.17 562.57 350.42 560.25 356.00C557.93 361.58 554.25 370.08 553.05 372.90M566.95 339.40C567.15 339.40 567.20 336.80 568.15 339.40C569.10 342.00 571.13 349.87 572.65 355.00C574.17 360.13 576.48 367.67 577.25 370.20M652.40 337.40C652.28 338.83 651.87 342.90 651.70 346.00C651.53 349.10 651.42 353.00 651.40 356.00C651.38 359.00 651.45 362.22 651.60 364.00C651.75 365.78 652.18 366.25 652.30 366.70M662.40 337.40C662.28 338.83 661.87 342.90 661.70 346.00C661.53 349.10 661.42 353.00 661.40 356.00C661.38 359.00 661.45 362.22 661.60 364.00C661.75 365.78 662.18 366.25 662.30 366.70M670.70 348.10C670.78 349.75 670.95 354.57 671.20 358.00C671.45 361.43 672.03 366.92 672.20 368.70"/></g>
<g aria-label="Vapautettu" stroke="#545454"><path stroke-width="2.75" d="M861.70 348.40C860.87 348.27 858.52 347.08 856.70 347.60C854.88 348.12 852.57 349.68 850.80 351.50C849.03 353.32 847.20 356.28 846.10 358.50C845.00 360.72 844.33 363.25 844.20 364.80C844.07 366.35 844.53 367.32 845.30 367.80C846.07 368.28 847.35 368.42 848.80 367.70C850.25 366.98 852.35 365.37 854.00 363.50C855.65 361.63 857.35 359.08 858.70 356.50C860.05 353.92 861.53 349.42 862.10 348.00M869.30 348.00C869.97 348.07 871.20 348.00 873.30 348.40C875.40 348.80 879.33 349.37 881.90 350.40C884.47 351.43 887.47 353.07 888.70 354.60C889.93 356.13 890.23 358.13 889.30 359.60C888.37 361.07 885.73 362.53 883.10 363.40C880.47 364.27 875.80 364.63 873.50 364.80C871.20 364.97 870.00 364.47 869.30 364.40M912.30 348.40C911.47 348.27 909.12 347.08 907.30 347.60C905.48 348.12 903.17 349.68 901.40 351.50C899.63 353.32 897.80 356.28 896.70 358.50C895.60 360.72 894.93 363.25 894.80 364.80C894.67 366.35 895.13 367.32 895.90 367.80C896.67 368.28 897.95 368.42 899.40 367.70C900.85 366.98 902.95 365.37 904.60 363.50C906.25 361.63 907.95 359.08 909.30 356.50C910.65 353.92 912.13 349.42 912.70 348.00M968.85 359.60C970.00 359.10 973.58 357.97 975.75 356.60C977.92 355.23 980.60 352.83 981.85 351.40C983.10 349.97 983.35 348.88 983.25 348.00C983.15 347.12 982.17 346.27 981.25 346.10C980.33 345.93 979.22 346.02 977.75 347.00C976.28 347.98 973.90 350.07 972.45 352.00C971.00 353.93 969.80 356.67 969.05 358.60C968.30 360.53 967.88 362.13 967.95 363.60C968.02 365.07 968.53 366.58 969.45 367.40C970.37 368.22 971.88 368.70 973.45 368.50C975.02 368.30 976.95 367.88 978.85 366.20C980.75 364.52 983.85 359.70 984.85 358.40"/><path stroke-width="3.20" d="M862.10 348.00C862.00 349.67 861.53 355.08 861.50 358.00C861.47 360.92 861.58 363.90 861.90 365.50C862.22 367.10 863.15 367.25 863.40 367.60M912.70 348.00C912.60 349.67 912.13 355.08 912.10 358.00C912.07 360.92 912.18 363.90 912.50 365.50C912.82 367.10 913.75 367.25 914.00 367.60M923.80 347.70C923.47 349.08 922.27 353.28 921.80 356.00C921.33 358.72 920.93 362.07 921.00 364.00C921.07 365.93 921.47 367.03 922.20 367.60C922.93 368.17 923.95 368.50 925.40 367.40C926.85 366.30 929.08 364.30 930.90 361.00C932.72 357.70 935.40 349.83 936.30 347.60M936.30 347.60C936.22 349.33 935.68 354.93 935.80 358.00C935.92 361.07 936.37 364.30 937.00 366.00C937.63 367.70 939.17 367.83 939.60 368.20M942.65 354.40C944.42 353.83 949.62 351.87 953.25 351.00C956.88 350.13 962.58 349.50 964.45 349.20M988.90 354.40C990.67 353.83 995.87 351.87 999.50 351.00C1003.13 350.13 1008.83 349.50 1010.70 349.20M1012.40 354.40C1014.17 353.83 1019.37 351.87 1023.00 351.00C1026.63 350.13 1032.33 349.50 1034.20 349.20M1040.65 347.70C1040.32 349.08 1039.12 353.28 1038.65 356.00C1038.18 358.72 1037.78 362.07 1037.85 364.00C1037.92 365.93 1038.32 367.03 1039.05 367.60C1039.78 368.17 1040.80 368.50 1042.25 367.40C1043.70 366.30 1045.93 364.30 1047.75 361.00C1049.57 357.70 1052.25 349.83 1053.15 347.60M1053.15 347.60C1053.07 349.33 1052.53 354.93 1052.65 358.00C1052.77 361.07 1053.22 364.30 1053.85 366.00C1054.48 367.70 1056.02 367.83 1056.45 368.20"/><path stroke-width="3.39" d="M817.25 344.60C818.25 346.83 821.15 353.60 823.25 358.00C825.35 362.40 828.75 368.83 829.85 371.00M829.85 371.00C830.25 369.50 831.18 365.33 832.25 362.00C833.32 358.67 834.85 354.73 836.25 351.00C837.65 347.27 839.92 341.50 840.65 339.60M873.30 347.60C873.33 350.00 873.40 357.00 873.50 362.00C873.60 367.00 873.83 375.00 873.90 377.60M953.25 340.60C953.15 343.00 952.62 351.10 952.65 355.00C952.68 358.90 953.08 361.80 953.45 364.00C953.82 366.20 954.62 367.50 954.85 368.20M999.50 340.60C999.40 343.00 998.87 351.10 998.90 355.00C998.93 358.90 999.33 361.80 999.70 364.00C1000.07 366.20 1000.87 367.50 1001.10 368.20M1023.00 340.60C1022.90 343.00 1022.37 351.10 1022.40 355.00C1022.43 358.90 1022.83 361.80 1023.20 364.00C1023.57 366.20 1024.37 367.50 1024.60 368.20"/></g>
<g aria-label="Valitsematta" stroke="#545454"><path stroke-width="2.75" d="M1176.80 342.80C1175.97 342.67 1173.62 341.48 1171.80 342.00C1169.98 342.52 1167.67 344.08 1165.90 345.90C1164.13 347.72 1162.30 350.68 1161.20 352.90C1160.10 355.12 1159.43 357.65 1159.30 359.20C1159.17 360.75 1159.63 361.72 1160.40 362.20C1161.17 362.68 1162.45 362.82 1163.90 362.10C1165.35 361.38 1167.45 359.77 1169.10 357.90C1170.75 356.03 1172.45 353.48 1173.80 350.90C1175.15 348.32 1176.63 343.82 1177.20 342.40M1242.20 342.10C1241.18 342.27 1238.10 342.32 1236.10 343.10C1234.10 343.88 1231.22 345.68 1230.20 346.80C1229.18 347.92 1228.85 348.87 1230.00 349.80C1231.15 350.73 1234.57 351.37 1237.10 352.40C1239.63 353.43 1243.92 354.70 1245.20 356.00C1246.48 357.30 1246.07 359.03 1244.80 360.20C1243.53 361.37 1239.90 362.38 1237.60 363.00C1235.30 363.62 1232.10 363.75 1231.00 363.90M1231.00 363.90L1232.40 362.20M1251.50 354.00C1252.65 353.50 1256.23 352.37 1258.40 351.00C1260.57 349.63 1263.25 347.23 1264.50 345.80C1265.75 344.37 1266.00 343.28 1265.90 342.40C1265.80 341.52 1264.82 340.67 1263.90 340.50C1262.98 340.33 1261.87 340.42 1260.40 341.40C1258.93 342.38 1256.55 344.47 1255.10 346.40C1253.65 348.33 1252.45 351.07 1251.70 353.00C1250.95 354.93 1250.53 356.53 1250.60 358.00C1250.67 359.47 1251.18 360.98 1252.10 361.80C1253.02 362.62 1254.53 363.10 1256.10 362.90C1257.67 362.70 1259.60 362.28 1261.50 360.60C1263.40 358.92 1266.50 354.10 1267.50 352.80M1275.40 363.50C1276.00 362.15 1277.30 359.02 1279.00 355.40C1280.70 351.78 1284.30 344.13 1285.60 341.80C1286.90 339.47 1286.60 341.47 1286.80 341.40M1287.80 362.00C1288.33 360.90 1289.47 358.50 1291.00 355.40C1292.53 352.30 1295.63 345.53 1297.00 343.40C1298.37 341.27 1298.83 342.73 1299.20 342.60M1326.10 342.80C1325.27 342.67 1322.92 341.48 1321.10 342.00C1319.28 342.52 1316.97 344.08 1315.20 345.90C1313.43 347.72 1311.60 350.68 1310.50 352.90C1309.40 355.12 1308.73 357.65 1308.60 359.20C1308.47 360.75 1308.93 361.72 1309.70 362.20C1310.47 362.68 1311.75 362.82 1313.20 362.10C1314.65 361.38 1316.75 359.77 1318.40 357.90C1320.05 356.03 1321.75 353.48 1323.10 350.90C1324.45 348.32 1325.93 343.82 1326.50 342.40M1398.60 342.80C1397.77 342.67 1395.42 341.48 1393.60 342.00C1391.78 342.52 1389.47 344.08 1387.70 345.90C1385.93 347.72 1384.10 350.68 1383.00 352.90C1381.90 355.12 1381.23 357.65 1381.10 359.20C1380.97 360.75 1381.43 361.72 1382.20 362.20C1382.97 362.68 1384.25 362.82 1385.70 362.10C1387.15 361.38 1389.25 359.77 1390.90 357.90C1392.55 356.03 1394.25 353.48 1395.60 350.90C1396.95 348.32 1398.43 343.82 1399.00 342.40"/><path stroke-width="3.20" d="M1177.20 342.40C1177.10 344.07 1176.63 349.48 1176.60 352.40C1176.57 355.32 1176.68 358.30 1177.00 359.90C1177.32 361.50 1178.25 361.65 1178.50 362.00M1194.30 332.70L1196.10 333.60M1203.40 348.80C1205.17 348.23 1210.37 346.27 1214.00 345.40C1217.63 344.53 1223.33 343.90 1225.20 343.60M1273.60 341.40C1273.73 343.23 1274.10 348.72 1274.40 352.40C1274.70 356.08 1275.23 361.65 1275.40 363.50M1286.80 341.40C1286.90 343.23 1287.23 348.97 1287.40 352.40C1287.57 355.83 1287.73 360.40 1287.80 362.00M1299.20 342.60C1299.40 344.23 1300.07 349.03 1300.40 352.40C1300.73 355.77 1301.07 361.07 1301.20 362.80M1326.50 342.40C1326.40 344.07 1325.93 349.48 1325.90 352.40C1325.87 355.32 1325.98 358.30 1326.30 359.90C1326.62 361.50 1327.55 361.65 1327.80 362.00M1332.00 348.80C1333.77 348.23 1338.97 346.27 1342.60 345.40C1346.23 344.53 1351.93 343.90 1353.80 343.60M1355.80 348.80C1357.57 348.23 1362.77 346.27 1366.40 345.40C1370.03 344.53 1375.73 343.90 1377.60 343.60M1399.00 342.40C1398.90 344.07 1398.43 349.48 1398.40 352.40C1398.37 355.32 1398.48 358.30 1398.80 359.90C1399.12 361.50 1400.05 361.65 1400.30 362.00"/><path stroke-width="3.39" d="M1132.10 339.00C1133.10 341.23 1136.00 348.00 1138.10 352.40C1140.20 356.80 1143.60 363.23 1144.70 365.40M1144.70 365.40C1145.10 363.90 1146.03 359.73 1147.10 356.40C1148.17 353.07 1149.70 349.13 1151.10 345.40C1152.50 341.67 1154.77 335.90 1155.50 334.00M1187.50 331.80C1187.38 333.23 1186.97 337.30 1186.80 340.40C1186.63 343.50 1186.52 347.40 1186.50 350.40C1186.48 353.40 1186.55 356.62 1186.70 358.40C1186.85 360.18 1187.28 360.65 1187.40 361.10M1195.80 342.50C1195.88 344.15 1196.05 348.97 1196.30 352.40C1196.55 355.83 1197.13 361.32 1197.30 363.10M1214.00 335.00C1213.90 337.40 1213.37 345.50 1213.40 349.40C1213.43 353.30 1213.83 356.20 1214.20 358.40C1214.57 360.60 1215.37 361.90 1215.60 362.60M1342.60 335.00C1342.50 337.40 1341.97 345.50 1342.00 349.40C1342.03 353.30 1342.43 356.20 1342.80 358.40C1343.17 360.60 1343.97 361.90 1344.20 362.60M1366.40 335.00C1366.30 337.40 1365.77 345.50 1365.80 349.40C1365.83 353.30 1366.23 356.20 1366.60 358.40C1366.97 360.60 1367.77 361.90 1368.00 362.60"/></g>
<g aria-label="(yksittäisolio)" stroke="#5e5e5e"><path stroke-width="1.33" d="M1195.33 383.90C1194.65 384.86 1192.27 387.29 1191.26 389.68C1190.25 392.06 1189.37 395.77 1189.28 398.20C1189.19 400.63 1189.76 402.73 1190.71 404.25C1191.66 405.77 1194.29 406.82 1195.00 407.33M1231.53 391.99C1230.97 392.08 1229.27 392.10 1228.17 392.54C1227.08 392.97 1225.49 393.96 1224.93 394.57C1224.37 395.18 1224.19 395.71 1224.82 396.22C1225.45 396.73 1227.33 397.08 1228.72 397.65C1230.12 398.22 1232.47 398.91 1233.18 399.63C1233.89 400.35 1233.66 401.30 1232.96 401.94C1232.26 402.58 1230.27 403.14 1229.00 403.48C1227.73 403.82 1225.97 403.89 1225.37 403.98M1225.37 403.98L1226.14 403.04M1279.36 392.37C1278.90 392.30 1277.61 391.65 1276.61 391.93C1275.61 392.21 1274.34 393.08 1273.37 394.07C1272.39 395.07 1271.38 396.71 1270.78 397.93C1270.17 399.14 1269.81 400.54 1269.73 401.39C1269.66 402.24 1269.92 402.77 1270.34 403.04C1270.76 403.31 1271.47 403.38 1272.26 402.99C1273.06 402.59 1274.22 401.70 1275.12 400.68C1276.03 399.65 1276.97 398.25 1277.71 396.82C1278.45 395.40 1279.27 392.93 1279.58 392.15M1298.83 391.99C1298.27 392.08 1296.57 392.10 1295.47 392.54C1294.38 392.97 1292.79 393.96 1292.23 394.57C1291.67 395.18 1291.49 395.71 1292.12 396.22C1292.75 396.73 1294.63 397.08 1296.02 397.65C1297.42 398.22 1299.77 398.91 1300.48 399.63C1301.19 400.35 1300.96 401.30 1300.26 401.94C1299.56 402.58 1297.57 403.14 1296.30 403.48C1295.03 403.82 1293.27 403.89 1292.67 403.98M1292.67 403.98L1293.44 403.04M1305.54 392.37C1306.04 392.58 1307.67 393.06 1308.57 393.63C1309.46 394.21 1310.42 395.06 1310.93 395.83C1311.44 396.61 1311.69 397.44 1311.64 398.31C1311.60 399.18 1311.26 400.29 1310.65 401.06C1310.05 401.83 1308.95 402.57 1308.01 402.93C1307.08 403.29 1305.88 403.51 1305.04 403.20C1304.21 402.90 1303.39 402.02 1303.01 401.12C1302.62 400.21 1302.58 398.89 1302.73 397.76C1302.89 396.63 1303.40 395.28 1303.94 394.35C1304.49 393.42 1305.64 392.56 1305.98 392.20M1306.09 392.92C1306.50 393.10 1307.83 393.54 1308.57 394.02C1309.30 394.50 1310.17 395.49 1310.49 395.78M1328.84 392.37C1329.34 392.58 1330.97 393.06 1331.87 393.63C1332.76 394.21 1333.72 395.06 1334.23 395.83C1334.74 396.61 1334.99 397.44 1334.94 398.31C1334.90 399.18 1334.56 400.29 1333.95 401.06C1333.35 401.83 1332.25 402.57 1331.31 402.93C1330.38 403.29 1329.18 403.51 1328.34 403.20C1327.51 402.90 1326.69 402.02 1326.31 401.12C1325.92 400.21 1325.88 398.89 1326.03 397.76C1326.19 396.63 1326.70 395.28 1327.24 394.35C1327.79 393.42 1328.94 392.56 1329.28 392.20M1329.39 392.92C1329.80 393.10 1331.13 393.54 1331.87 394.02C1332.60 394.50 1333.47 395.49 1333.79 395.78M1339.67 383.90C1340.35 385.00 1342.91 388.02 1343.74 390.50C1344.57 392.98 1344.77 396.46 1344.62 398.75C1344.47 401.04 1343.83 402.80 1342.86 404.25C1341.89 405.70 1339.47 406.91 1338.79 407.44"/><path stroke-width="1.55" d="M1198.18 391.93C1198.25 392.88 1198.27 396.16 1198.62 397.65C1198.97 399.13 1199.61 400.42 1200.27 400.84C1200.93 401.26 1201.79 400.99 1202.58 400.18C1203.37 399.37 1204.36 397.49 1205.00 396.00C1205.64 394.51 1206.19 392.06 1206.43 391.27M1206.43 391.27C1206.32 392.70 1205.93 396.90 1205.77 399.85C1205.61 402.80 1205.50 407.46 1205.44 408.98M1211.28 384.78C1211.34 386.38 1211.48 391.25 1211.61 394.35C1211.74 397.45 1211.98 401.87 1212.05 403.37M1218.87 390.17C1218.28 390.81 1216.41 392.88 1215.35 394.02C1214.29 395.16 1212.31 395.93 1212.49 396.99C1212.67 398.05 1215.02 399.43 1216.45 400.40C1217.88 401.37 1220.30 402.42 1221.07 402.82M1236.73 386.81L1237.72 387.31M1241.27 395.67C1242.24 395.36 1245.10 394.28 1247.10 393.80C1249.10 393.32 1252.23 392.98 1253.26 392.81M1254.77 395.67C1255.74 395.36 1258.60 394.28 1260.60 393.80C1262.60 393.32 1265.73 392.98 1266.76 392.81M1279.58 392.15C1279.52 393.07 1279.27 396.05 1279.25 397.65C1279.23 399.25 1279.30 400.89 1279.47 401.77C1279.64 402.65 1280.16 402.74 1280.29 402.93M1273.42 386.98L1274.19 387.42M1277.93 386.76L1278.70 387.20M1284.53 386.81L1285.52 387.31M1320.13 386.81L1321.12 387.31"/><path stroke-width="1.64" d="M1237.56 392.20C1237.61 393.11 1237.70 395.76 1237.84 397.65C1237.97 399.54 1238.29 402.55 1238.38 403.54M1247.10 388.08C1247.04 389.40 1246.75 393.86 1246.77 396.00C1246.79 398.14 1247.01 399.74 1247.21 400.95C1247.41 402.16 1247.85 402.88 1247.98 403.26M1260.60 388.08C1260.54 389.40 1260.25 393.86 1260.27 396.00C1260.29 398.14 1260.51 399.74 1260.71 400.95C1260.91 402.16 1261.35 402.88 1261.48 403.26M1285.36 392.20C1285.41 393.11 1285.50 395.76 1285.63 397.65C1285.77 399.54 1286.09 402.55 1286.18 403.54M1316.55 386.32C1316.49 387.11 1316.26 389.35 1316.17 391.05C1316.07 392.75 1316.01 394.90 1316.00 396.55C1315.99 398.20 1316.03 399.97 1316.11 400.95C1316.19 401.93 1316.43 402.19 1316.50 402.44M1320.96 392.20C1321.01 393.11 1321.10 395.76 1321.24 397.65C1321.37 399.54 1321.69 402.55 1321.79 403.54"/></g>
</svg>
</body></html>
